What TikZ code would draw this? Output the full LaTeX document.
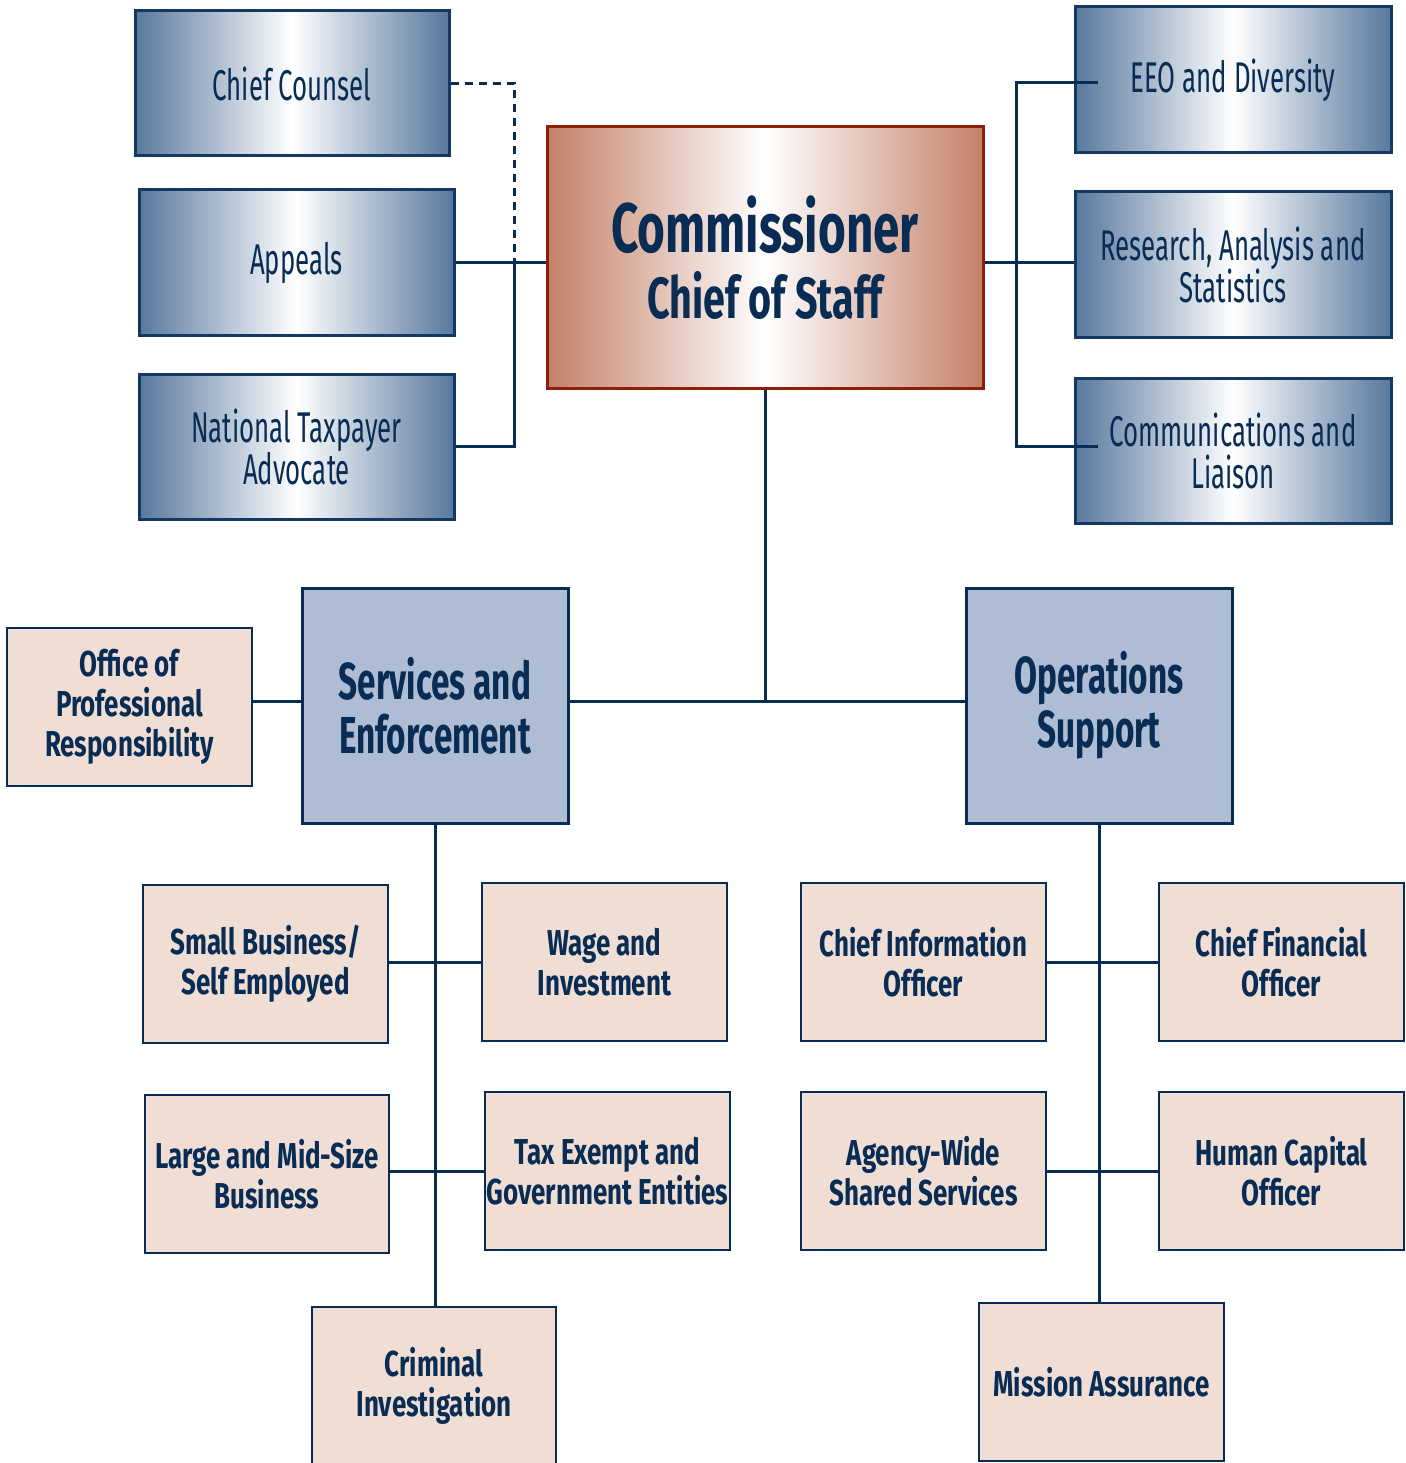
\documentclass[tikz,border=0pt]{standalone}
\usepackage{fontspec}
\setmainfont{Fira Sans}[FakeStretch=0.6]
\newfontfamily\pbfont{Fira Sans}[FakeStretch=0.72]
\newfontfamily\sefont{Fira Sans}[FakeStretch=0.64]
\newfontfamily\comfont{Fira Sans}[FakeStretch=0.68]
\usetikzlibrary{calc}
\definecolor{navy}{RGB}{8,44,84}
\definecolor{steel}{RGB}{88,120,158}
\definecolor{steelborder}{RGB}{20,56,98}
\definecolor{copper}{RGB}{196,128,104}
\definecolor{copperborder}{RGB}{140,32,8}
\definecolor{paleblue}{RGB}{174,189,212}
\definecolor{pink}{RGB}{240,221,212}
\tikzset{
  gbox/.style={draw=steelborder, line width=3pt, left color=steel, right color=steel, middle color=white,
    minimum width=315pt, minimum height=145pt, text=navy, align=center, inner sep=0pt,
    font=\fontsize{43}{43}\selectfont},
  cbox/.style={draw=copperborder, line width=3pt, left color=copper, right color=copper, middle color=white,
    minimum width=436pt, minimum height=261pt, text=navy, align=center, inner sep=0pt},
  bbox/.style={draw=navy, line width=3pt, fill=paleblue, minimum width=266pt, minimum height=235pt,
    text=navy, align=center, inner sep=0pt, font=\sefont\bfseries\fontsize{52}{54}\selectfont},
  pbox/.style={draw=navy, line width=2pt, fill=pink, minimum width=245pt, minimum height=158pt,
    text=navy, align=center, inner sep=0pt, font=\pbfont\bfseries\fontsize{36}{40}\selectfont},
  conn/.style={draw=navy, line width=3pt},
  dconn/.style={draw=navy, line width=3pt, dash pattern=on 8pt off 6pt}
}
\begin{document}
\begin{tikzpicture}[x=1pt, y=-1pt]
\useasboundingbox (0,0) rectangle (1405,1463);
% top left
\node[gbox, minimum width=314pt] (cc) at (292,83.5) {Chief Counsel};
\node[gbox] (ap) at (296.5,262.5) {Appeals};
\node[gbox] (nta) at (296.5,446.5) {National Taxpayer\\[-1pt]Advocate};
% commissioner
\node[cbox] (com) at (765,257.5) {{\comfont\bfseries\fontsize{70}{70}\selectfont Commissioner}\\[16pt]{\comfont\bfseries\fontsize{58}{58}\selectfont Chief of Staff}};
% top right
\node[gbox, minimum width=316pt, minimum height=146pt] (eeo) at (1233,80) {EEO and Diversity};
\node[gbox, minimum width=316pt] (ras) at (1233,264.5) {Research, Analysis and\\[-1pt]Statistics};
\node[gbox, minimum width=316pt] (cl) at (1233,450.5) {Communications and\\[-1pt]Liaison};
% middle
\node[pbox] (opr) at (129.5,707) {Office of\\Professional\\Responsibility};
\node[bbox] (se) at (435,705.5) {Services and\\Enforcement};
\node[bbox] (ops) at (1099,705.5) {Operations\\Support};
% bottom left
\node[pbox] (sb) at (265.5,964) {Small Business/\\Self Employed};
\node[pbox] (wi) at (604.5,962) {Wage and\\Investment};
\node[pbox, minimum width=244pt] (lm) at (267,1174) {Large and Mid-Size\\Business};
\node[pbox] (te) at (607.5,1171) {Tax Exempt and\\Government Entities};
\node[pbox, minimum width=244pt] (ci) at (434,1386) {Criminal\\Investigation};
% bottom right
\node[pbox] (cio) at (923.5,962) {Chief Information\\Officer};
\node[pbox] (cfo) at (1281.5,962) {Chief Financial\\Officer};
\node[pbox] (aws) at (923.5,1171) {Agency-Wide\\Shared Services};
\node[pbox] (hco) at (1281.5,1171) {Human Capital\\Officer};
\node[pbox] (ma) at (1101.5,1382) {Mission Assurance};
% junction coordinates
\coordinate (jl) at (514,262);
\coordinate (jr) at (1016,262);
\coordinate (e1) at (1098,83);
\coordinate (c1) at (1098,446);
\coordinate (jm) at (765,701);
% connectors
\draw[dconn] (cc.east) -| (jl);
\draw[conn] (ap.east |- jl) -- (com.west |- jl);
\draw[conn] (nta.east) -| (jl);
\draw[conn] (com.east |- jr) -- (ras.west |- jr);
\draw[conn] (e1) -| (jr) |- (c1);
\draw[conn] (com.south) -- (jm);
\draw[conn] (se.east |- jm) -- (ops.west |- jm);
\draw[conn] (opr.east |- jm) -- (se.west |- jm);
\draw[conn] (se.south) -- (se.south |- ci.north);
\draw[conn] (sb.east |- wi.west) -- (wi.west);
\draw[conn] (lm.east |- te.west) -- (te.west);
\draw[conn] (ops.south) -- (ops.south |- ma.north);
\draw[conn] (cio.east) -- (cfo.west);
\draw[conn] (aws.east) -- (hco.west);
\end{tikzpicture}
\end{document}
